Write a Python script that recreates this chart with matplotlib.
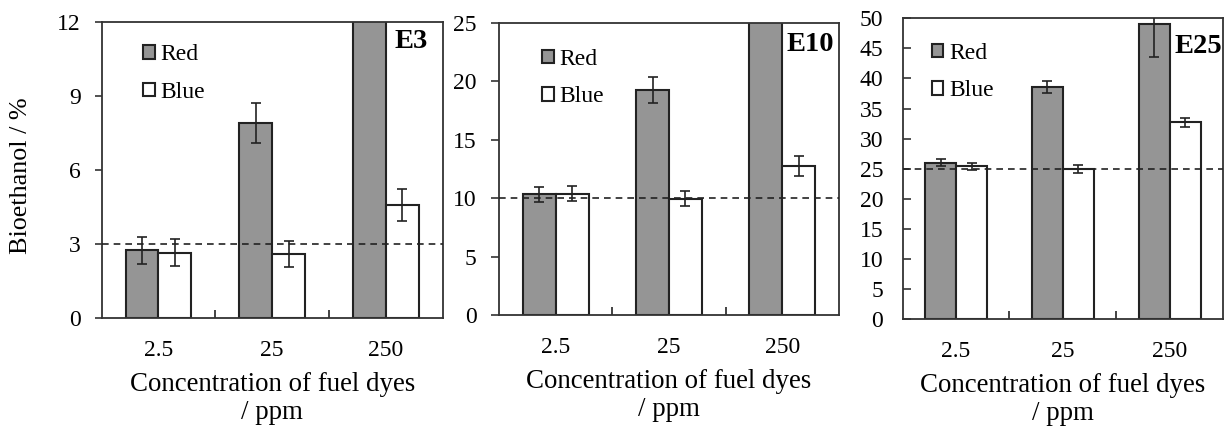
import matplotlib.pyplot as plt
import numpy as np

plt.rcParams['font.family'] = ['Liberation Serif', 'DejaVu Serif']

conc = ['2.5', '25', '250']

# E3 blend
e3_red = [2.75, 7.9, 14.0]
e3_red_err = [0.55, 0.8, 1.0]
e3_blue = [2.65, 2.6, 4.58]
e3_blue_err = [0.55, 0.53, 0.65]

# E10 blend
e10_red = [10.35, 19.25, 28.0]
e10_red_err = [0.65, 1.1, 1.0]
e10_blue = [10.4, 9.95, 12.75]
e10_blue_err = [0.65, 0.65, 0.85]

# E25 blend
e25_red = [26.0, 38.6, 49.0]
e25_red_err = [0.6, 1.0, 5.5]
e25_blue = [25.4, 24.9, 32.7]
e25_blue_err = [0.6, 0.7, 0.8]

panels = [
    ('E3', e3_red, e3_red_err, e3_blue, e3_blue_err, 3, 12, np.arange(0, 13, 3)),
    ('E10', e10_red, e10_red_err, e10_blue, e10_blue_err, 10, 25, np.arange(0, 26, 5)),
    ('E25', e25_red, e25_red_err, e25_blue, e25_blue_err, 25, 50, np.arange(0, 51, 5)),
]

# per-panel layout: axes rect, label anchor, legend anchor, y tick direction/pad
layout = [
    dict(rect=[0.0825, 0.2639, 0.2768, 0.685], lab=(0.957, 0.912),
         leg=(0.121, 0.925), tdir='out', tlen=5, tpad=10),
    dict(rect=[0.405, 0.2708, 0.276, 0.676], lab=(0.985, 0.904),
         leg=(0.126, 0.912), tdir='out', tlen=6, tpad=10),
    dict(rect=[0.7327, 0.2616, 0.260, 0.696], lab=(0.997, 0.885),
         leg=(0.09, 0.918), tdir='in', tlen=6, tpad=14),
]

fig = plt.figure(figsize=(12.32, 4.32), dpi=100)

gray = '#959595'
frame = '#333333'
w = 0.29
x = np.arange(len(conc))

for (name, red, red_err, blue, blue_err, ref, ymax, yt), L in zip(panels, layout):
    ax = fig.add_axes(L['rect'])
    ax.bar(x - w / 2, red, w, color=gray, edgecolor='#222222', linewidth=1.5,
           label='Red', zorder=2)
    ax.bar(x + w / 2, blue, w, color='white', edgecolor='#222222', linewidth=1.5,
           label='Blue', zorder=2)
    ax.errorbar(x - w / 2, red, yerr=red_err, fmt='none', ecolor='#222222',
                elinewidth=1.2, capsize=3.5, capthick=1.2, zorder=3)
    ax.errorbar(x + w / 2, blue, yerr=blue_err, fmt='none', ecolor='#222222',
                elinewidth=1.2, capsize=3.5, capthick=1.2, zorder=3)
    ax.axhline(ref, color='#222222', linestyle=(0, (4, 3)), linewidth=1.2, zorder=4)

    ax.set_xlim(-0.5, 2.5)
    ax.set_ylim(0, ymax)
    ax.set_yticks(yt)
    ax.set_xticks(x)
    ax.set_xticklabels(conc)
    ax.set_xticks([0.5, 1.5], minor=True)
    ax.tick_params(axis='x', which='major', length=0, pad=16, labelsize=17)
    ax.tick_params(axis='x', which='minor', direction='in', length=6, width=1.2,
                   color='#222222')
    ax.tick_params(axis='y', direction=L['tdir'], length=L['tlen'], width=1.2,
                   pad=L['tpad'], labelsize=17, color='#333333')
    for s in ax.spines.values():
        s.set_color(frame)
        s.set_linewidth(1.3)

    ax.set_xlabel('Concentration of fuel dyes\n/ ppm', fontsize=19.4,
                  linespacing=1.15, labelpad=8)
    ax.text(L['lab'][0], L['lab'][1], name, transform=ax.transAxes,
            ha='right', va='baseline', fontsize=20.5, fontweight='bold', zorder=5)

    ax.legend(loc='upper left', bbox_to_anchor=L['leg'], frameon=False,
              fontsize=17, handlelength=0.5, handleheight=0.5,
              handletextpad=0.25, labelspacing=0.7, borderaxespad=0,
              borderpad=0)

fig.text(0.017, 0.593, 'Bioethanol / %', rotation=90, ha='center', va='center',
         fontsize=18.8)

fig.savefig('out.png', dpi=100)
